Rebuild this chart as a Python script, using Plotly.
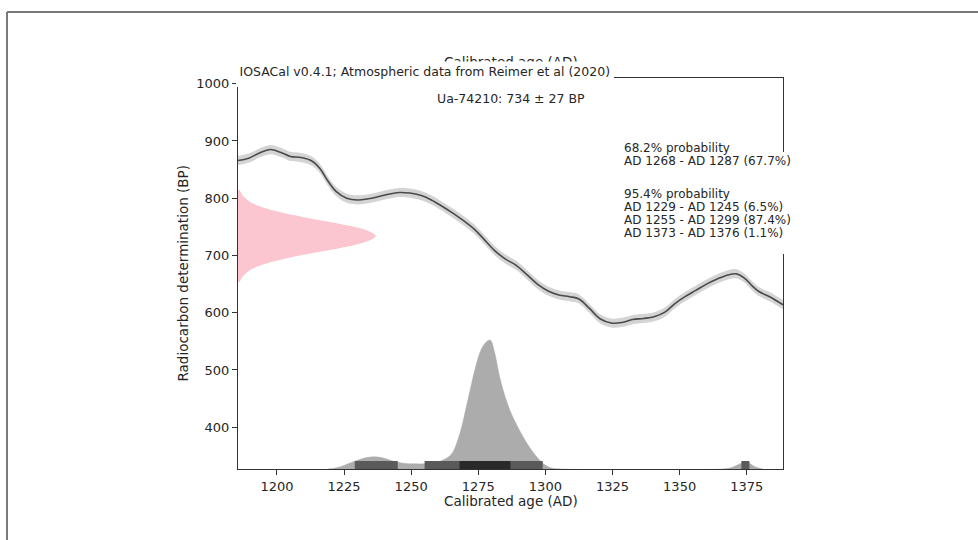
import plotly.graph_objects as go

# ---------------- data ----------------
# calibration curve (calendar year AD, radiocarbon age BP, 1-sigma)
curve_years = [1185.5, 1189.5, 1193.5, 1197.5, 1201.5, 1205, 1209, 1213, 1216, 1219,
               1222, 1226, 1230, 1234, 1238, 1241.5, 1245.5, 1249.5, 1253.5, 1257.5,
               1261.5, 1265.5, 1269.5, 1273.5, 1277, 1281, 1285, 1289, 1293, 1297,
               1301, 1305, 1309, 1312.5, 1316.5, 1320.5, 1324.5, 1328.5, 1332.5, 1336.5,
               1340.5, 1344.5, 1348, 1352, 1356, 1360, 1364, 1368, 1371, 1374,
               1377, 1379.5, 1383.5, 1388.5]
curve_bp = [866, 870, 879, 885, 880, 873, 871, 865, 852, 830,
            812, 800, 797, 799, 803, 807, 810, 809, 805, 797,
            786, 774, 761, 746, 729, 709, 694, 683, 667, 650,
            638, 631, 628, 624, 607, 589, 582, 583, 588, 590,
            593, 601, 615, 628, 639, 650, 659, 666, 668, 661,
            647, 637, 628, 614]
curve_sigma = [8, 8, 8, 8, 8, 8, 8, 8, 8, 8,
               8, 8, 8, 8, 8, 8, 8, 8, 8, 8,
               8, 8, 8, 8, 8, 8, 8, 8, 8, 8,
               8, 8, 8, 8, 8, 8, 8, 8, 8, 8,
               8, 8, 8, 8, 8, 8, 8, 8, 8, 8,
               8, 8, 8, 8]

# radiocarbon determination (Ua-74210: 734 +/- 27 BP), drawn sideways
det_label = "Ua-74210: 734 ± 27 BP"
det_bp = [654, 662, 670, 678, 686, 694, 702, 710, 718, 726, 734,
          742, 750, 758, 766, 774, 782, 790, 798, 806, 814]
det_width = [0.7, 1.5, 3.2, 5.9, 10.5, 17.1, 25.4, 34.6, 43.1, 49.0, 51.3,
             49.0, 43.1, 34.6, 25.4, 17.1, 10.5, 5.9, 3.2, 1.5, 0.7]

# calibrated probability distribution (height in axis units above the floor)
cal_years = [1219, 1223, 1227, 1231, 1235, 1239, 1243, 1247, 1251, 1255,
             1259, 1262, 1265, 1268, 1271, 1274, 1276, 1278, 1279.5, 1281,
             1283, 1285, 1287, 1289, 1291, 1293, 1295, 1297, 1299, 1302,
             1306, 1366, 1369, 1372, 1374, 1376, 1378, 1381]
cal_height = [0, 3, 10, 17, 21, 20, 14, 10, 9, 9,
              11, 16, 26, 60, 118, 178, 208, 222, 225, 205,
              160, 126, 100, 80, 62, 46, 32, 20, 10, 2,
              0, 0, 2, 8, 12, 10, 4, 0]

# highest density ranges
int95_start = [1229, 1255, 1373]
int95_end = [1245, 1299, 1376]
int68_start = [1268]
int68_end = [1287]
interval_bar_height = 14

range_text = ["68.2% probability", "AD 1268 - AD 1287 (67.7%)",
              "95.4% probability", "AD 1229 - AD 1245 (6.5%)",
              "AD 1255 - AD 1299 (87.4%)", "AD 1373 - AD 1376 (1.1%)"]
range_text_rows = [148, 161, 194, 207, 220, 233]   # pixel rows of the lines

title_text = "IOSACal v0.4.1; Atmospheric data from Reimer et al (2020)"
x_title = "Calibrated age (AD)"
y_title = "Radiocarbon determination (BP)"
x_ticks = [1200, 1225, 1250, 1275, 1300, 1325, 1350, 1375]
y_ticks = [400, 500, 600, 700, 800, 900, 1000]
x_range = [1185.5, 1388.5]
y_range = [327, 1010]

# ---------------- figure ----------------
FONT = "DejaVu Sans"
TXT = "#262626"
W, H = 978, 540
ML, MR, MT, MB = 238, 195, 78, 71

fig = go.Figure()

# pink determination curve
fig.add_trace(go.Scatter(
    x=[x_range[0] + w for w in det_width], y=det_bp,
    mode="lines", line=dict(color="#fbc6cf", width=0, shape="spline"),
    fill="tozerox", fillcolor="#fbc6cf", hoverinfo="skip", showlegend=False))

# calibrated distribution
fig.add_trace(go.Scatter(
    x=cal_years, y=[y_range[0] + h for h in cal_height],
    mode="lines", line=dict(color="#acacac", width=0.5, shape="spline"),
    fill="tozeroy", fillcolor="#acacac", hoverinfo="skip", showlegend=False))

# interval bars
def add_bars(starts, ends, color):
    for s, e in zip(starts, ends):
        b = y_range[0]
        fig.add_trace(go.Scatter(
            x=[s, e, e, s, s],
            y=[b, b, b + interval_bar_height, b + interval_bar_height, b],
            mode="lines", line=dict(width=0, color=color),
            fill="toself", fillcolor=color, hoverinfo="skip", showlegend=False))

add_bars(int95_start, int95_end, "#5a5a5a")
add_bars(int68_start, int68_end, "#2a2a2a")

# calibration curve band + line
fig.add_trace(go.Scatter(
    x=curve_years, y=[b + s for b, s in zip(curve_bp, curve_sigma)],
    mode="lines", line=dict(width=0, color="#cfcfcf", shape="spline"),
    hoverinfo="skip", showlegend=False))
fig.add_trace(go.Scatter(
    x=curve_years, y=[b - s for b, s in zip(curve_bp, curve_sigma)],
    mode="lines", line=dict(width=0, color="#cfcfcf", shape="spline"),
    fill="tonexty", fillcolor="#d4d4d4", hoverinfo="skip", showlegend=False))
fig.add_trace(go.Scatter(
    x=curve_years, y=curve_bp, mode="lines",
    line=dict(color="#4a4a4a", width=1.6, shape="spline"),
    hoverinfo="skip", showlegend=False))

axis_common = dict(showgrid=False, zeroline=False, showline=True, mirror=True,
                   linecolor="#333333", linewidth=1, ticks="outside",
                   ticklen=5, tickcolor="#333333", tickwidth=1,
                   tickfont=dict(family=FONT, size=13, color=TXT))

fig.update_layout(
    width=W, height=H, autosize=False,
    margin=dict(l=ML, r=MR, t=MT, b=MB),
    paper_bgcolor="white", plot_bgcolor="white",
    font=dict(family=FONT, size=13, color=TXT),
    xaxis=dict(range=x_range, tickvals=x_ticks, **axis_common),
    yaxis=dict(range=y_range, tickvals=y_ticks, **axis_common),
    showlegend=False,
)

pw = W - ML - MR
ph = H - MT - MB

def px_x(px):
    return (px - ML) / pw

def px_y(py):
    return (H - MB - py) / ph

ann = []
# hidden top x label (mostly covered by the title box)
ann.append(dict(text=x_title, x=0.5, y=px_y(62.5), xref="paper", yref="paper",
                showarrow=False, xanchor="center", yanchor="middle",
                font=dict(family=FONT, size=13.5, color=TXT)))
# title with a white box that hides most of the label above
ann.append(dict(text=title_text, x=px_x(237), y=px_y(71), xref="paper",
                yref="paper", showarrow=False, xanchor="left",
                yanchor="middle", bgcolor="white", borderpad=1.5,
                font=dict(family=FONT, size=12.5, color=TXT)))
# determination label
ann.append(dict(text=det_label, x=0.5, y=px_y(98), xref="paper",
                yref="paper", showarrow=False, xanchor="center",
                yanchor="middle", font=dict(family=FONT, size=12.5, color=TXT)))
# probability ranges block
for t, row in zip(range_text, range_text_rows):
    ann.append(dict(text=t, x=px_x(622), y=px_y(row), xref="paper",
                    yref="paper", showarrow=False, xanchor="left",
                    yanchor="middle", align="left",
                    font=dict(family=FONT, size=12, color=TXT)))
# axis titles
ann.append(dict(text=x_title, x=0.5, y=px_y(501), xref="paper", yref="paper",
                showarrow=False, xanchor="center", yanchor="middle",
                font=dict(family=FONT, size=13.5, color=TXT)))
ann.append(dict(text=y_title, x=px_x(182), y=0.5, xref="paper", yref="paper",
                showarrow=False, xanchor="center", yanchor="middle",
                textangle=-90, font=dict(family=FONT, size=13.5, color=TXT)))
fig.update_layout(annotations=ann)

# white box below the title (covers the top-left spine and the 1000 tick)
fig.add_shape(type="rect", xref="paper", yref="paper", layer="above",
              x0=px_x(236), x1=px_x(614), y0=px_y(87), y1=px_y(62.5),
              fillcolor="white", line=dict(width=0))
# white box behind the probability text (covers the right spine there)
fig.add_shape(type="rect", xref="paper", yref="paper", layer="above",
              x0=px_x(619), x1=px_x(800), y0=px_y(254), y1=px_y(152),
              fillcolor="white", line=dict(width=0))

# outer frame (left and top edges of the cropped page)
fig.add_shape(type="line", xref="paper", yref="paper",
              x0=px_x(7), x1=px_x(985), y0=px_y(12), y1=px_y(12),
              line=dict(color="#7a7a7a", width=2))
fig.add_shape(type="line", xref="paper", yref="paper",
              x0=px_x(7), x1=px_x(7), y0=px_y(12), y1=px_y(548),
              line=dict(color="#7a7a7a", width=2))

fig.write_html("out.html", config={"displayModeBar": False},
               post_script="document.body.style.margin='0px';")
